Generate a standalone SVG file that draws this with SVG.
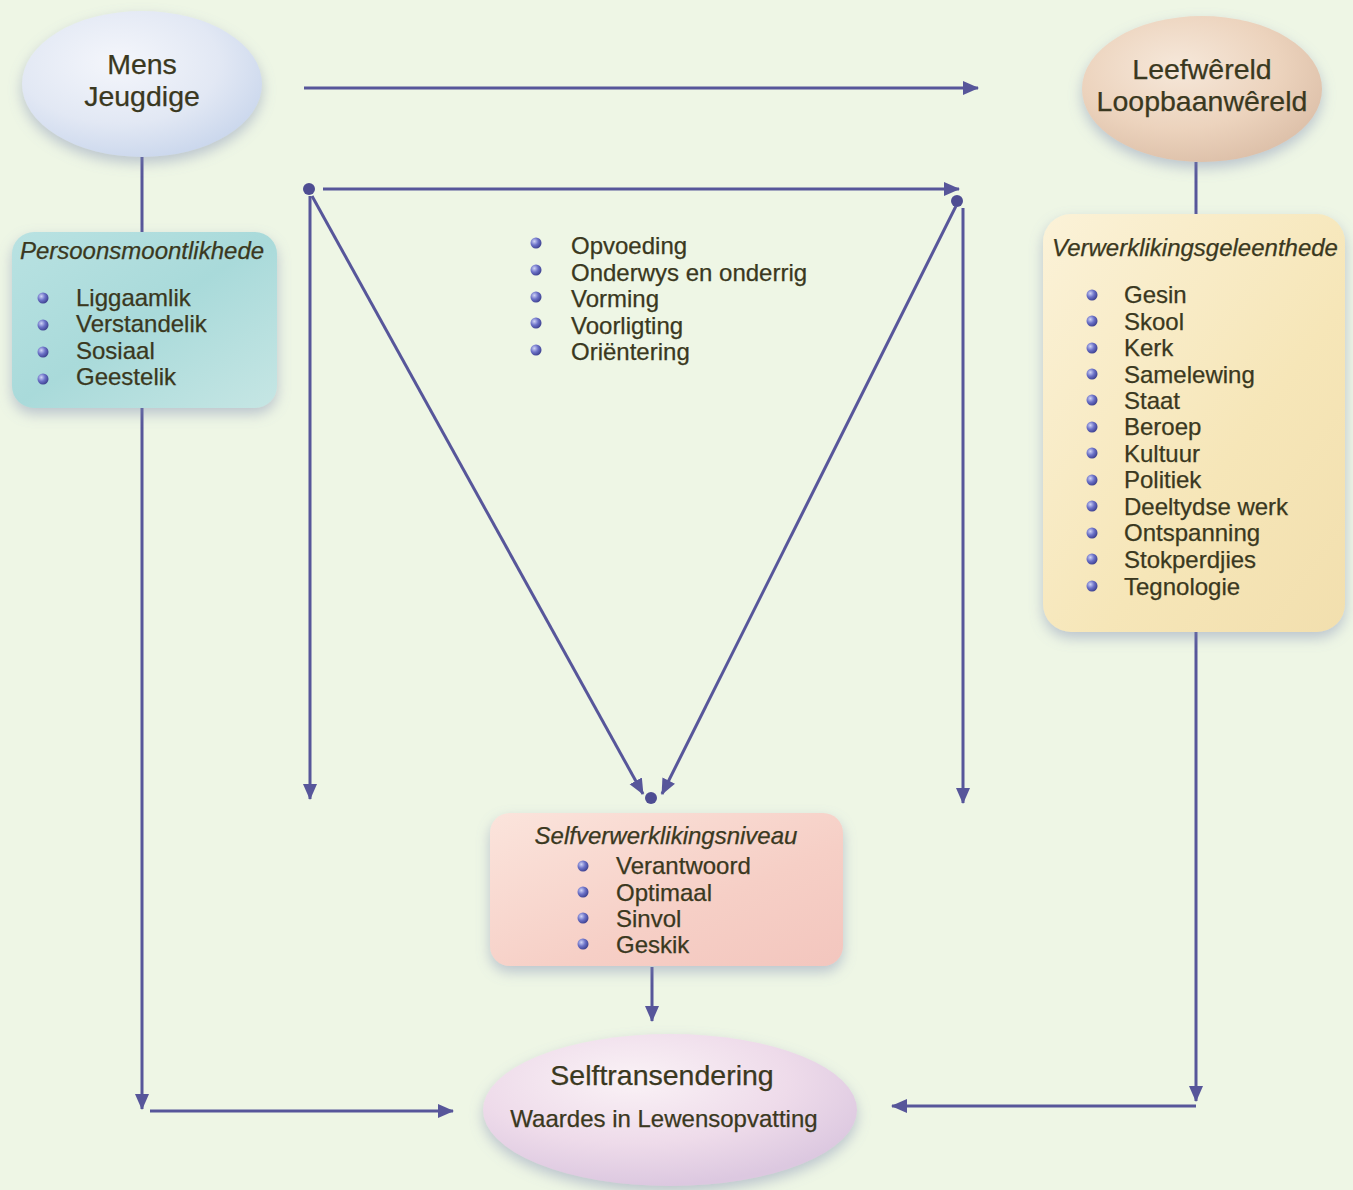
<svg xmlns="http://www.w3.org/2000/svg" width="1353" height="1190" viewBox="0 0 1353 1190">
<defs>
  <style>
    .t{font-family:"Liberation Sans",Arial,sans-serif;fill:#3a3820;stroke:#3a3820;stroke-width:0.25;}
    .big{font-size:28.5px;}
    .it{font-size:24px;font-style:italic;}
    .li{font-size:24px;}
    .ln{stroke:#57569a;stroke-width:3;fill:none;}
    .dot{fill:#4e4d92;}
  </style>
  <radialGradient id="gMens" cx="0.4" cy="0.35" r="0.7">
    <stop offset="0" stop-color="#f4f6fb"/>
    <stop offset="0.6" stop-color="#e2e8f4"/>
    <stop offset="1" stop-color="#c9d6ec"/>
  </radialGradient>
  <radialGradient id="gLeef" cx="0.4" cy="0.35" r="0.7">
    <stop offset="0" stop-color="#f6e8da"/>
    <stop offset="0.6" stop-color="#ecd3bd"/>
    <stop offset="1" stop-color="#dcbfa8"/>
  </radialGradient>
  <radialGradient id="gSelf" cx="0.4" cy="0.3" r="0.7">
    <stop offset="0" stop-color="#faf2f6"/>
    <stop offset="0.6" stop-color="#eedbea"/>
    <stop offset="1" stop-color="#dcc8e0"/>
  </radialGradient>
  <linearGradient id="gPers" x1="0" y1="0" x2="1" y2="1">
    <stop offset="0" stop-color="#b9e2e2"/>
    <stop offset="0.5" stop-color="#a9dada"/>
    <stop offset="1" stop-color="#c6e6e4"/>
  </linearGradient>
  <linearGradient id="gVerw" x1="0" y1="0" x2="1" y2="1">
    <stop offset="0" stop-color="#fbf2d8"/>
    <stop offset="0.6" stop-color="#f6e6b8"/>
    <stop offset="1" stop-color="#f2dfae"/>
  </linearGradient>
  <linearGradient id="gNiv" x1="0" y1="0" x2="1" y2="1">
    <stop offset="0" stop-color="#fbe4dc"/>
    <stop offset="0.6" stop-color="#f6cfc6"/>
    <stop offset="1" stop-color="#f3c6be"/>
  </linearGradient>
  <radialGradient id="gBul" cx="0.35" cy="0.35" r="0.7">
    <stop offset="0" stop-color="#d0d4f6"/>
    <stop offset="0.5" stop-color="#6c72c8"/>
    <stop offset="1" stop-color="#3c3f8e"/>
  </radialGradient>
  <filter id="sh" x="-20%" y="-20%" width="140%" height="150%">
    <feDropShadow dx="0" dy="6" stdDeviation="7" flood-color="#7a88b0" flood-opacity="0.45"/>
  </filter>
  <marker id="ah" markerWidth="16" markerHeight="16" refX="15" refY="8" orient="auto" markerUnits="userSpaceOnUse">
    <path d="M0,1 L16,8 L0,15 Z" fill="#57569a"/>
  </marker>
</defs>

<rect width="1353" height="1190" fill="#eef6e5"/>

<g id="connectors">
  <line class="ln" x1="304" y1="88" x2="978" y2="88" marker-end="url(#ah)"/>
  <line class="ln" x1="142" y1="157" x2="142" y2="232"/>
  <line class="ln" x1="142" y1="408" x2="142" y2="1109" marker-end="url(#ah)"/>
  <line class="ln" x1="150" y1="1111" x2="453" y2="1111" marker-end="url(#ah)"/>
  <line class="ln" x1="1196" y1="162" x2="1196" y2="214"/>
  <line class="ln" x1="1196" y1="632" x2="1196" y2="1101" marker-end="url(#ah)"/>
  <line class="ln" x1="1196" y1="1106" x2="892" y2="1106" marker-end="url(#ah)"/>
  <circle class="dot" cx="309" cy="189" r="6"/>
  <line class="ln" x1="323" y1="189" x2="959" y2="189" marker-end="url(#ah)"/>
  <circle class="dot" cx="957" cy="201" r="6"/>
  <line class="ln" x1="310" y1="196" x2="310" y2="799" marker-end="url(#ah)"/>
  <line class="ln" x1="312" y1="196" x2="643" y2="794" marker-end="url(#ah)"/>
  <line class="ln" x1="956" y1="206" x2="662" y2="794" marker-end="url(#ah)"/>
  <line class="ln" x1="963" y1="208" x2="963" y2="803" marker-end="url(#ah)"/>
  <circle class="dot" cx="651" cy="798" r="6"/>
  <line class="ln" x1="652" y1="967" x2="652" y2="1021" marker-end="url(#ah)"/>
</g>

<g id="mens">
  <ellipse cx="142" cy="84" rx="120" ry="73" fill="url(#gMens)" filter="url(#sh)"/>
  <text class="t big" x="142" y="74" text-anchor="middle">Mens</text>
  <text class="t big" x="142" y="106" text-anchor="middle">Jeugdige</text>
</g>

<g id="leefwereld">
  <ellipse cx="1202" cy="89" rx="120" ry="73" fill="url(#gLeef)" filter="url(#sh)"/>
  <text class="t big" x="1202" y="79" text-anchor="middle">Leefwêreld</text>
  <text class="t big" x="1202" y="111" text-anchor="middle">Loopbaanwêreld</text>
</g>

<g id="persoonsmoontlikhede">
  <rect x="12" y="232" width="265" height="176" rx="22" fill="url(#gPers)" filter="url(#sh)"/>
  <text class="t it" x="142" y="259" text-anchor="middle">Persoonsmoontlikhede</text>
  <g fill="url(#gBul)">
    <circle cx="43" cy="298" r="5.5"/><circle cx="43" cy="325" r="5.5"/><circle cx="43" cy="352" r="5.5"/><circle cx="43" cy="379" r="5.5"/>
  </g>
  <text class="t li" x="76" y="306">Liggaamlik</text>
  <text class="t li" x="76" y="332">Verstandelik</text>
  <text class="t li" x="76" y="359">Sosiaal</text>
  <text class="t li" x="76" y="385">Geestelik</text>
</g>

<g id="opvoeding">
  <g fill="url(#gBul)">
    <circle cx="536" cy="243" r="5.5"/><circle cx="536" cy="270" r="5.5"/><circle cx="536" cy="297" r="5.5"/><circle cx="536" cy="323" r="5.5"/><circle cx="536" cy="350" r="5.5"/>
  </g>
  <text class="t li" x="571" y="254">Opvoeding</text>
  <text class="t li" x="571" y="281">Onderwys en onderrig</text>
  <text class="t li" x="571" y="307">Vorming</text>
  <text class="t li" x="571" y="334">Voorligting</text>
  <text class="t li" x="571" y="360">Oriëntering</text>
</g>

<g id="verwerklikingsgeleenthede">
  <rect x="1043" y="214" width="302" height="418" rx="28" fill="url(#gVerw)" filter="url(#sh)"/>
  <text class="t it" x="1195" y="256" text-anchor="middle">Verwerklikingsgeleenthede</text>
  <g fill="url(#gBul)">
    <circle cx="1092" cy="295" r="5.5"/><circle cx="1092" cy="321" r="5.5"/><circle cx="1092" cy="348" r="5.5"/><circle cx="1092" cy="374" r="5.5"/>
    <circle cx="1092" cy="400" r="5.5"/><circle cx="1092" cy="427" r="5.5"/><circle cx="1092" cy="453" r="5.5"/><circle cx="1092" cy="480" r="5.5"/>
    <circle cx="1092" cy="506" r="5.5"/><circle cx="1092" cy="533" r="5.5"/><circle cx="1092" cy="559" r="5.5"/><circle cx="1092" cy="586" r="5.5"/>
  </g>
  <text class="t li" x="1124" y="303">Gesin</text>
  <text class="t li" x="1124" y="330">Skool</text>
  <text class="t li" x="1124" y="356">Kerk</text>
  <text class="t li" x="1124" y="383">Samelewing</text>
  <text class="t li" x="1124" y="409">Staat</text>
  <text class="t li" x="1124" y="435">Beroep</text>
  <text class="t li" x="1124" y="462">Kultuur</text>
  <text class="t li" x="1124" y="488">Politiek</text>
  <text class="t li" x="1124" y="515">Deeltydse werk</text>
  <text class="t li" x="1124" y="541">Ontspanning</text>
  <text class="t li" x="1124" y="568">Stokperdjies</text>
  <text class="t li" x="1124" y="595">Tegnologie</text>
</g>

<g id="selfverwerklikingsniveau">
  <rect x="490" y="813" width="353" height="153" rx="20" fill="url(#gNiv)" filter="url(#sh)"/>
  <text class="t it" x="666" y="844" text-anchor="middle">Selfverwerklikingsniveau</text>
  <g fill="url(#gBul)">
    <circle cx="583" cy="866" r="5.5"/><circle cx="583" cy="892" r="5.5"/><circle cx="583" cy="918" r="5.5"/><circle cx="583" cy="944" r="5.5"/>
  </g>
  <text class="t li" x="616" y="874">Verantwoord</text>
  <text class="t li" x="616" y="901">Optimaal</text>
  <text class="t li" x="616" y="927">Sinvol</text>
  <text class="t li" x="616" y="953">Geskik</text>
</g>

<g id="selftransendering">
  <ellipse cx="670" cy="1110" rx="187" ry="76" fill="url(#gSelf)" filter="url(#sh)"/>
  <text class="t big" x="662" y="1085" text-anchor="middle">Selftransendering</text>
  <text class="t li" x="664" y="1127" text-anchor="middle">Waardes in Lewensopvatting</text>
</g>
</svg>
